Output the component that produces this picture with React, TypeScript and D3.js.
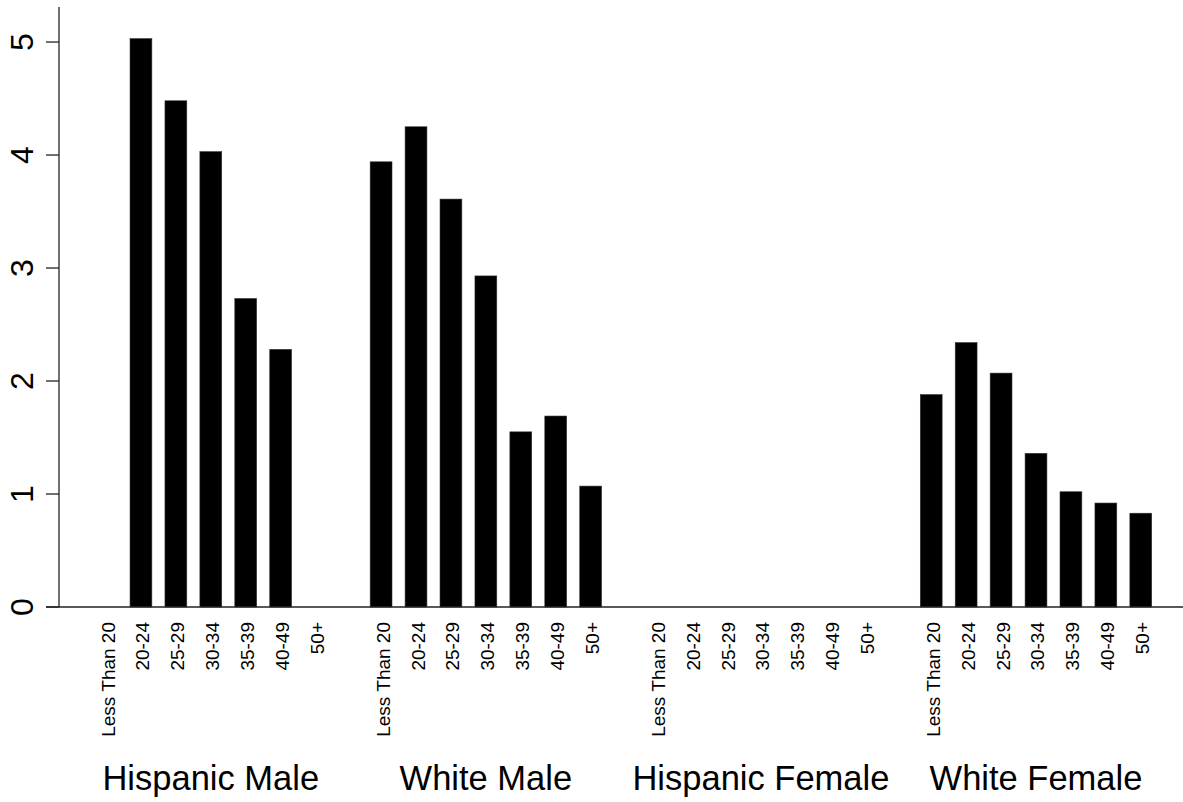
import { useEffect, useRef } from 'react';
import * as d3 from 'd3';

const groups = ['Hispanic Male', 'White Male', 'Hispanic Female', 'White Female'];
const ageBands = ['Less Than 20', '20-24', '25-29', '30-34', '35-39', '40-49', '50+'];
const hispanicMale = [0, 5.03, 4.48, 4.03, 2.73, 2.28, 0];
const whiteMale = [3.94, 4.25, 3.61, 2.93, 1.55, 1.69, 1.07];
const hispanicFemale = [0, 0, 0, 0, 0, 0, 0];
const whiteFemale = [1.88, 2.34, 2.07, 1.36, 1.02, 0.92, 0.83];
const yTicks = [0, 1, 2, 3, 4, 5];

const WIDTH = 1183;
const HEIGHT = 802;

const App = () => {
  const svgRef = useRef<SVGSVGElement>(null);

  useEffect(() => {
    if (!svgRef.current) return;
    const svg = d3.select(svgRef.current);
    svg.selectAll('*').remove();

    const series = [hispanicMale, whiteMale, hispanicFemale, whiteFemale];
    // barplot-style units: bar width 1, space 0.6 inside a group, 2 between groups
    const barSpace = 0.6;
    const groupSpace = 2;
    const groupStep = ageBands.length + (ageBands.length - 1) * barSpace + groupSpace;
    const totalUnits = groups.length * groupStep - groupSpace;

    const bars = series.flatMap((vals, g) =>
      vals.map((v, i) => ({ group: g, band: ageBands[i], value: v, left: g * groupStep + i * (1 + barSpace) }))
    );

    const x = d3.scaleLinear().domain([0, totalUnits]).range([95.1, 1151.7]);
    const y = d3.scaleLinear().domain([0, 5.31]).range([607, 7]);
    const font = '"Liberation Sans", Arial, Helvetica, sans-serif';
    const axisX = 59;

    // bars
    svg.append('g')
      .selectAll('rect')
      .data(bars.filter(d => d.value > 0))
      .join('rect')
      .attr('x', d => x(d.left))
      .attr('width', x(1) - x(0))
      .attr('y', d => y(d.value))
      .attr('height', d => y(0) - y(d.value))
      .attr('fill', '#000')
      .attr('stroke', '#333')
      .attr('stroke-width', 0.6);

    // baseline
    svg.append('line')
      .attr('x1', axisX - 13).attr('x2', WIDTH)
      .attr('y1', y(0)).attr('y2', y(0))
      .attr('stroke', '#222').attr('stroke-width', 1.3);

    // y axis
    const yAxis = svg.append('g').attr('transform', `translate(${axisX},0)`);
    yAxis.append('line')
      .attr('y1', y(5.31)).attr('y2', y(0))
      .attr('stroke', '#222').attr('stroke-width', 1.3);
    yAxis.selectAll('.tick')
      .data(yTicks)
      .join('line')
      .attr('x1', -13).attr('x2', 0)
      .attr('y1', d => y(d)).attr('y2', d => y(d))
      .attr('stroke', '#222').attr('stroke-width', 1.3);
    svg.append('g')
      .selectAll('text')
      .data(yTicks)
      .join('text')
      .attr('transform', d => `translate(33,${y(d)}) rotate(-90)`)
      .attr('text-anchor', 'middle')
      .attr('font-family', font)
      .attr('font-size', 32)
      .attr('fill', '#000')
      .text(d => String(d));

    // age band labels
    svg.append('g')
      .selectAll('text')
      .data(bars)
      .join('text')
      .attr('transform', d => `translate(${x(d.left + 0.5) + 8.5},622) rotate(-90)`)
      .attr('text-anchor', 'end')
      .attr('font-family', font)
      .attr('font-size', 19)
      .attr('fill', '#000')
      .text(d => d.band);

    // group labels
    svg.append('g')
      .selectAll('text')
      .data(groups)
      .join('text')
      .attr('x', (_d, g) => x(g * groupStep + (groupStep - groupSpace) / 2))
      .attr('y', 790)
      .attr('text-anchor', 'middle')
      .attr('font-family', font)
      .attr('font-size', 34.5)
      .attr('fill', '#000')
      .text(d => d);
  }, []);

  return (
    <div style={{ position: 'absolute', left: 0, top: 0, background: '#fff' }}>
      <svg ref={svgRef} width={WIDTH} height={HEIGHT} style={{ display: 'block' }} />
    </div>
  );
};

export default App;
